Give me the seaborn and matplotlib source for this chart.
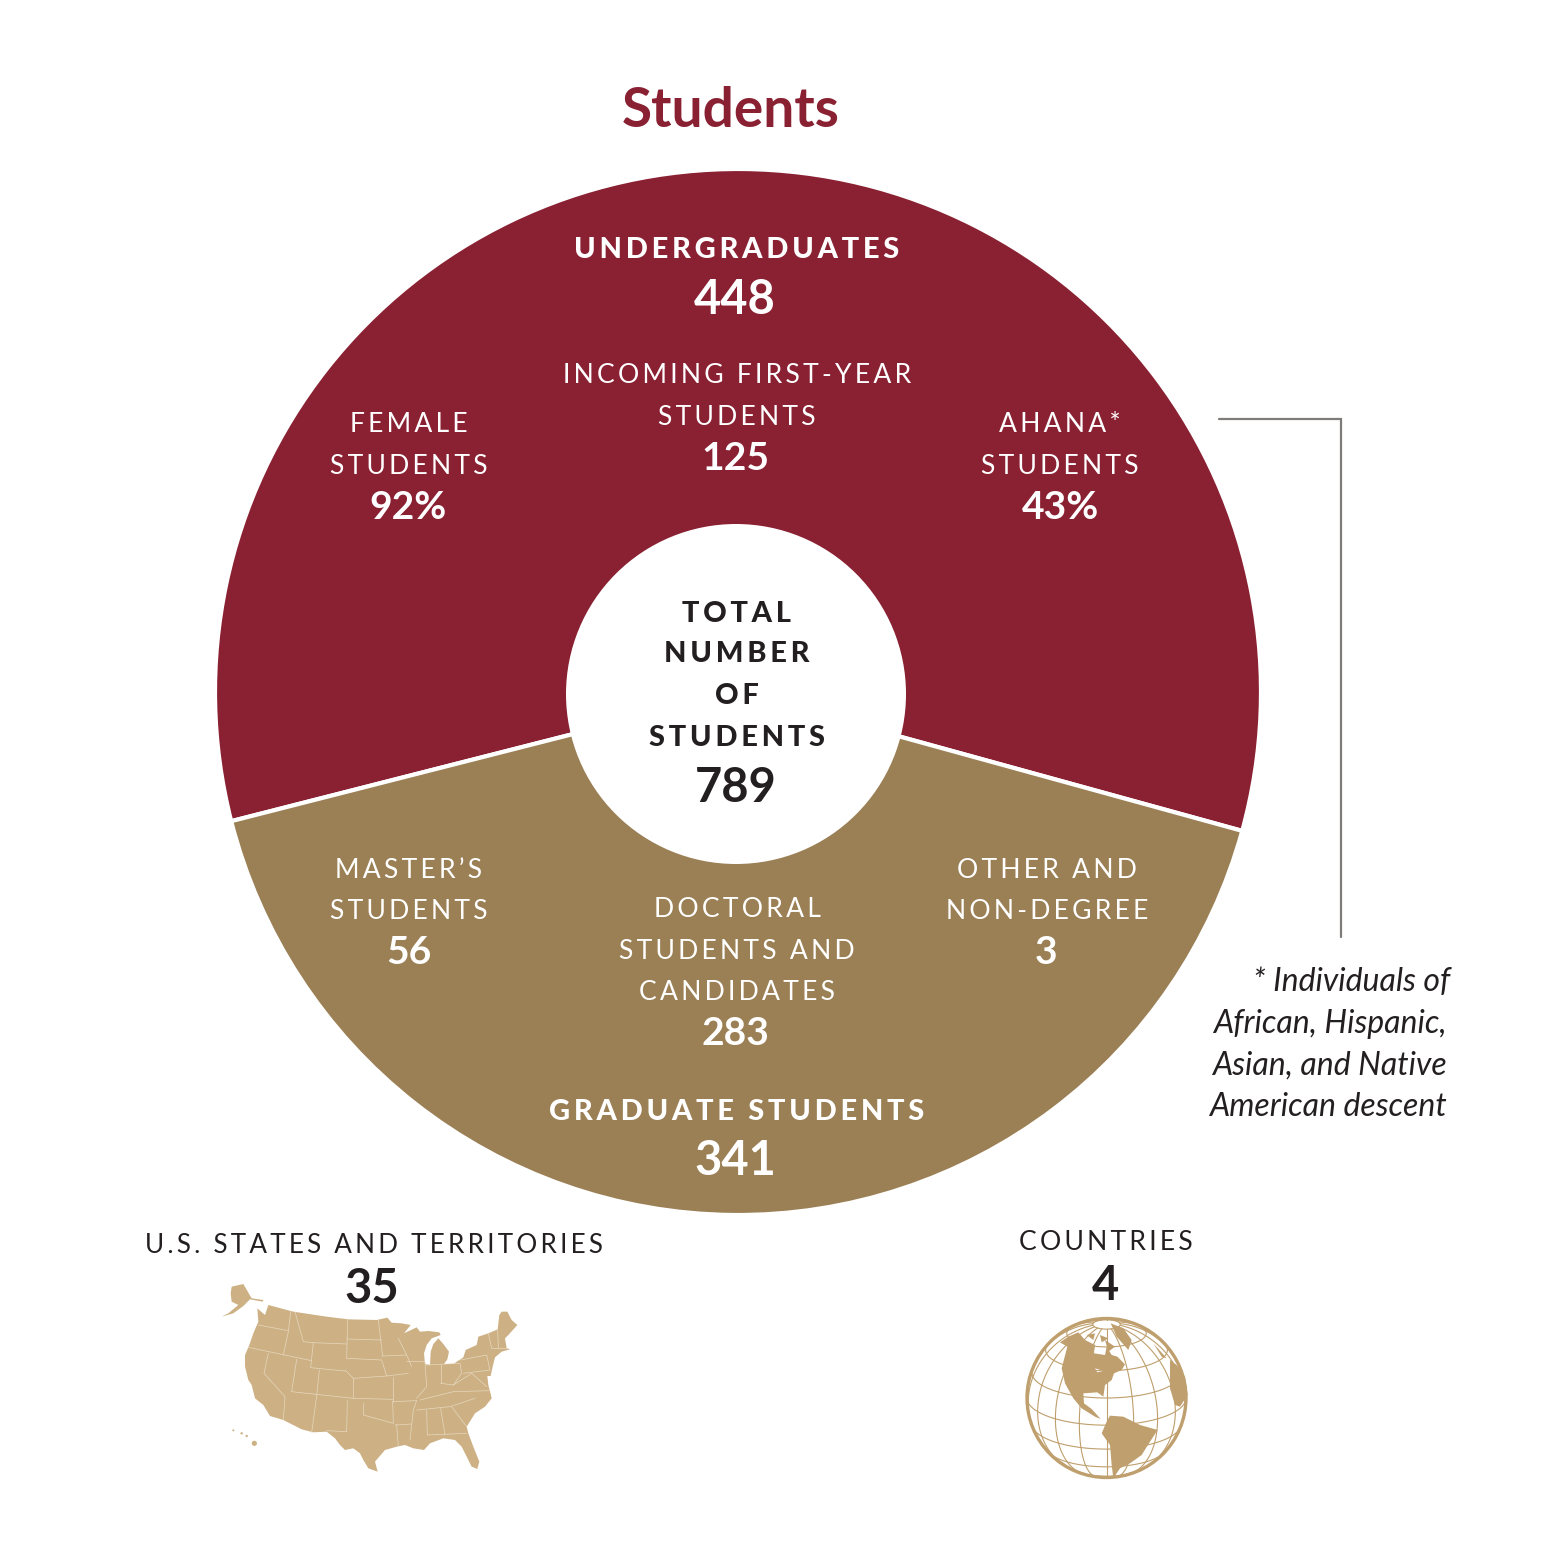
import numpy as np
import matplotlib
matplotlib.use("Agg")
import matplotlib.pyplot as plt
from matplotlib.patches import Polygon, Circle
import seaborn as sns

sns.set_theme(style="white")
plt.rcParams['font.family'] = ['Lato', 'DejaVu Sans']

# ---- data ----
groups = ["UNDERGRADUATES", "GRADUATE STUDENTS"]
group_counts = [448, 341]
slice_shares = [209.7, 150.3]   # arc shares as drawn in the picture
slice_colors = sns.color_palette(["#8a2133", "#9b7f55"])
total_label = ["TOTAL", "NUMBER", "OF", "STUDENTS"]
total_value = 789

RED, GOLD, INK, TAN, GLOBE = "#8a2133", "#9b7f55", "#231f20", "#cdb184", "#bf9f6d"

W, H = 1546, 1545
fig = plt.figure(figsize=(W / 100, H / 100), dpi=100, facecolor="white")

# donut
cx, cy, R = 738, 692, 523
axp = fig.add_axes([(cx - R) / W, 1 - (cy + R) / H, 2 * R / W, 2 * R / H])
axp.pie(slice_shares, colors=slice_colors, startangle=-15.4, radius=1, counterclock=True,
        wedgeprops=dict(width=1 - 160 / R, edgecolor="white", linewidth=3))
axp.set_xlim(-1, 1); axp.set_ylim(-1, 1); axp.axis("off")

# overlay in picture pixels
ax = fig.add_axes([0, 0, 1, 1], facecolor="none")
ax.set_xlim(0, W); ax.set_ylim(H, 0); ax.axis("off")
ax.add_patch(Circle((736, 694), 170, fc="white", ec="none"))

def px(v):
    return v * 0.72

def track(s, n=2):
    return ("\u200a" * n).join(s)

def label(x, y, s, size=26.5, color="white", weight="normal", n=2):
    ax.text(x, y + 2.5, track(s, n), ha="center", va="center", color=color, fontsize=px(size),
            fontweight=weight, family=['Lato', 'DejaVu Sans'])

def number(x, y, s, size=47, color="white"):
    ax.text(x, y + (4 if size > 42 else 2.5), s, ha="center", va="center", color=color, fontsize=px(size),
            fontweight="bold", family=['Lato', 'DejaVu Sans'])

ax.text(731, 111, "Students", ha="center", va="center", color=RED, fontsize=px(55), fontweight="bold")

label(737, 248, groups[0], size=29, weight=900)
number(735, 296, str(group_counts[0]), 47)
label(737, 373, "INCOMING FIRST-YEAR")
label(737, 415, "STUDENTS")
number(735, 456, "125", 39)
label(409, 422, "FEMALE")
label(409, 464, "STUDENTS")
number(408, 505, "92%", 39)
label(1060, 422, "AHANA*")
label(1060, 464, "STUDENTS")
number(1060, 505, "43%", 39)

for y, s in zip([611, 652, 694, 736], total_label):
    label(737, y, s, size=29, color=INK, weight=900)
number(736, 784, str(total_value), 47, INK)

label(409, 868, "MASTER’S")
label(409, 909, "STUDENTS")
number(409, 950, "56", 39)
label(737, 907, "DOCTORAL")
label(737, 949, "STUDENTS AND")
label(737, 990, "CANDIDATES")
number(735, 1031, "283", 39)
label(1047, 868, "OTHER AND")
label(1047, 909, "NON-DEGREE")
number(1046, 950, "3", 39)
label(737, 1110, groups[1], size=29, weight=900)
number(735, 1157, str(group_counts[1]), 47)

label(374, 1243, "U.S. STATES AND TERRITORIES", size=26, color=INK)
number(372, 1285, "35", 47, INK)
label(1106, 1240, "COUNTRIES", color=INK)
number(1105, 1282, "4", 47, INK)

# footnote + bracket
ax.plot([1219, 1340.5, 1340.5], [419, 419, 937], color="#7f7b78", lw=1.6, solid_joinstyle="miter")
note = ["* Individuals of", "African, Hispanic,", "Asian, and Native", "American descent"]
for y, s, x in zip([982, 1024, 1066, 1107], note, [1450, 1447, 1447, 1447]):
    ax.text(x, y, s, ha="right", va="center", color=INK, fontsize=px(32), fontstyle="italic")

# ---- US map illustration (traced, crop coordinates) ----
def map_xy(pts):
    a = np.array(pts, float)
    return np.c_[200 + a[:, 0] / 3, 1270 + a[:, 1] / 3]

us_outline = [(205,105),(280,125),(380,140),(445,148),(530,150),(562,143),(575,158),(605,160),(632,165),(612,190),
    (650,172),(660,185),(685,183),(718,187),(722,195),(695,205),(680,225),(672,250),(675,282),(690,285),(692,245),
    (700,222),(715,205),(730,222),(747,245),(742,268),(732,282),(760,282),(790,262),(797,240),(830,225),(835,200),
    (865,190),(893,178),(898,135),(905,125),(922,125),(935,150),(952,165),(925,195),(915,205),(920,235),(930,238),
    (905,245),(885,262),(878,290),(872,318),(862,318),(865,345),(872,372),(875,385),(855,410),(825,430),(800,470),
    (805,490),(820,530),(838,575),(832,597),(815,590),(795,550),(785,530),(765,510),(730,505),(690,520),(672,540),
    (640,535),(615,525),(590,530),(555,540),(525,575),(533,605),(505,595),(490,570),(480,550),(460,535),(435,540),
    (420,525),(405,505),(380,485),(340,487),(305,478),(250,450),(210,438),(190,405),(165,385),(155,345),(145,330),
    (135,290),(135,255),(148,225),(160,190),(175,155),(172,115),(195,135)]
alaska = [(95,50),(130,42),(155,85),(190,90),(188,95),(150,88),(130,108),(100,130),(65,140),(85,130),(115,105),(95,95),(92,70)]
ax.add_patch(Polygon(map_xy(us_outline), closed=True, fc=TAN, ec="none"))
ax.add_patch(Polygon(map_xy(alaska), closed=True, fc=TAN, ec="none"))
for p, rad in zip(map_xy([(163,520),(140,498),(125,490),(100,481)]), [2.6, 1.2, 1.2, 1.0]):
    ax.add_patch(Circle(p, rad, fc=TAN, ec="none"))

state_lines = [
    [(175,165),(265,182)], [(285,125),(310,215),(340,218)], [(272,125),(265,185),(250,255)],
    [(145,232),(335,272)], [(340,218),(440,222)], [(340,218),(332,293),(435,303)],
    [(443,148),(440,265)], [(440,207),(545,210)], [(440,265),(545,270),(560,318),(460,325)],
    [(435,300),(460,325),(460,385)], [(358,300),(350,378),(335,487)], [(275,365),(460,385),(578,388)],
    [(442,390),(440,485),(380,482)], [(490,400),(490,435),(580,460),(578,395)],
    [(205,250),(192,310),(255,380),(250,450)], [(290,268),(275,365)], [(535,150),(548,260)],
    [(548,258),(620,255)], [(595,205),(620,255),(635,290)], [(560,318),(625,310)], [(578,320),(578,395)],
    [(578,395),(650,392)], [(620,275),(675,275),(680,350),(650,385)], [(722,282),(722,340)],
    [(680,285),(780,280),(785,310),(760,345),(722,340)], [(660,390),(760,365),(870,362)],
    [(650,420),(750,410),(825,385)], [(640,420),(630,510)], [(680,420),(682,495)], [(722,415),(735,495)],
    [(682,495),(800,490)], [(755,410),(800,470)], [(585,465),(635,462)], [(590,465),(595,530)],
    [(782,270),(860,255),(870,300),(790,310)], [(760,345),(815,310),(860,350)],
    [(865,190),(875,235),(925,235)], [(893,178),(895,235)], [(650,392),(640,420)],
]
for ln in state_lines:
    a = map_xy(ln)
    ax.plot(a[:, 0], a[:, 1], color="#e6d8bf", lw=0.5)

# ---- globe illustration ----
gx, gy, gr = 1106.5, 1398, 79.5
GLOBE_LAT0 = np.radians(20)

def ortho(lon, lat):
    x = np.cos(lat) * np.sin(lon)
    y = np.cos(GLOBE_LAT0) * np.sin(lat) - np.sin(GLOBE_LAT0) * np.cos(lat) * np.cos(lon)
    vis = np.sin(GLOBE_LAT0) * np.sin(lat) + np.cos(GLOBE_LAT0) * np.cos(lat) * np.cos(lon)
    x = np.where(vis >= 0, x, np.nan)
    y = np.where(vis >= 0, y, np.nan)
    return gx + gr * x, gy - gr * y

for lon_deg in range(-180, 180, 20):
    x, y = ortho(np.full(200, np.radians(lon_deg)), np.radians(np.linspace(-90, 80, 200)))
    ax.plot(x, y, color=GLOBE, lw=0.8)
for lat_deg in range(-60, 90, 20):
    x, y = ortho(np.radians(np.linspace(-180, 180, 400)), np.full(400, np.radians(lat_deg)))
    ax.plot(x, y, color=GLOBE, lw=0.8)

def globe_xy(pts):
    a = np.array(pts, float)
    return np.c_[1010 + a[:, 0] / 3, 1305 + a[:, 1] / 3]

north_america = [(150,112),(175,95),(205,82),(225,105),(255,120),(252,145),(285,150),(290,125),(305,150),(322,155),
    (345,178),(335,195),(312,205),(305,225),(285,240),(280,275),(262,262),(220,265),(222,295),(245,312),(272,342),
    (255,335),(215,310),(190,280),(165,235),(155,190),(172,125)]
south_america = [(300,332),(340,335),(390,360),(443,375),(420,410),(395,450),(360,475),(330,490),(310,520),
    (305,480),(300,420),(275,385),(290,350)]
africa = [(480,165),(500,180),(525,215),(533,270),(510,305),(495,300),(480,250)]
greenland = [(302,55),(340,70),(365,105),(355,135),(320,95)]
europe = [(430,115),(470,160),(455,155)]
islands = [[(230,90),(255,85),(250,105)], [(270,90),(295,100),(275,112)], [(285,105),(315,125),(295,140)]]
for poly in [north_america, south_america, africa, greenland, europe] + islands:
    ax.add_patch(Polygon(globe_xy(poly), closed=True, fc=GLOBE, ec="none"))
ax.add_patch(Polygon(globe_xy([(255,190),(280,198),(262,202)]), closed=True, fc="white", ec="none"))
ax.add_patch(Circle((gx, gy), gr, fc="none", ec=GLOBE, lw=2.4))

fig.savefig("out.png", dpi=100, facecolor="white")
